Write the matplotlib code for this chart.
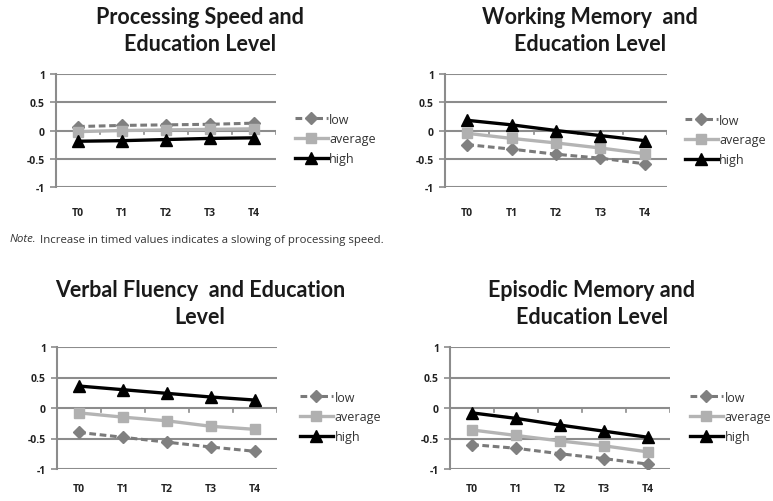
import matplotlib
matplotlib.use("Agg")
import matplotlib.pyplot as plt
import matplotlib.transforms as mtransforms

W, H = 773, 502
DPI = 100

times = ["T0", "T1", "T2", "T3", "T4"]
groups = ["low", "average", "high"]

ps_low = [0.07, 0.09, 0.10, 0.11, 0.13]
ps_avg = [-0.02, 0.00, 0.01, 0.02, 0.03]
ps_high = [-0.19, -0.18, -0.16, -0.14, -0.13]

wm_low = [-0.25, -0.33, -0.42, -0.49, -0.59]
wm_avg = [-0.05, -0.14, -0.22, -0.31, -0.41]
wm_high = [0.18, 0.10, 0.00, -0.09, -0.18]

vf_low = [-0.40, -0.48, -0.56, -0.64, -0.71]
vf_avg = [-0.08, -0.15, -0.21, -0.30, -0.35]
vf_high = [0.36, 0.30, 0.24, 0.18, 0.13]

em_low = [-0.60, -0.66, -0.75, -0.83, -0.92]
em_avg = [-0.36, -0.45, -0.54, -0.62, -0.72]
em_high = [-0.08, -0.17, -0.28, -0.38, -0.48]

y_ticks = [-1, -0.5, 0, 0.5, 1]
y_labels = ["-1", "-0.5", "0", "0.5", "1"]

titles = ["Processing Speed and\nEducation Level",
          "Working Memory  and\nEducation Level",
          "Verbal Fluency  and Education\nLevel",
          "Episodic Memory and\nEducation Level"]
note_label = "Note."
note_text = " Increase in timed values indicates a slowing of processing speed."

panels = [
    dict(data=(ps_low, ps_avg, ps_high), box=(56, 276, 75, 188), title=(200, 31),
         leg=(295, 140), xlab=213),
    dict(data=(wm_low, wm_avg, wm_high), box=(445, 667, 75, 188), title=(590, 31),
         leg=(685, 141), xlab=213),
    dict(data=(vf_low, vf_avg, vf_high), box=(57, 277, 348, 470), title=(200, 304),
         leg=(300, 418), xlab=490),
    dict(data=(em_low, em_avg, em_high), box=(450, 670, 348, 470), title=(592, 304),
         leg=(690, 418), xlab=490),
]

styles = [
    dict(color="#7a7a7a", ls=(0, (2.2, 1.2)), marker="D", ms=6.5, mfc="#808080", mec="#808080", lw=2.2),
    dict(color="#b4b4b4", ls="-", marker="s", ms=7.5, mfc="#b0b0b0", mec="#b0b0b0", lw=2.4),
    dict(color="#000000", ls="-", marker="^", ms=8, mfc="#000000", mec="#000000", lw=2.4),
]

fig = plt.figure(figsize=(W / DPI, H / DPI), dpi=DPI)
fig.patch.set_facecolor("white")

title_font = dict(family=["Lato", "DejaVu Sans"], weight="bold", size=15.5, color="#1a1a1a")
tick_font = dict(family=["Open Sans", "DejaVu Sans"], size=7.5, color="#222222", weight="bold")

for p, ttl in zip(panels, titles):
    l, r, t, b = p["box"]
    ax = fig.add_axes([l / W, 1 - b / H, (r - l) / W, (b - t) / H])
    ax.set_xlim(-0.5, len(times) - 0.5)
    ax.set_ylim(-1, 1)
    for s in ["top", "right", "bottom"]:
        ax.spines[s].set_visible(False)
    ax.spines["left"].set_color("#8c8c8c")
    ax.spines["left"].set_linewidth(1.5)
    ax.set_yticks(y_ticks)
    ax.set_yticklabels(y_labels, **tick_font)
    ax.tick_params(axis="y", length=4, width=1.2, color="#8c8c8c", pad=4)
    for yv in y_ticks:
        ax.axhline(yv, color="#8c8c8c", lw=1.5, zorder=1)
    # category boundary ticks on the zero line
    for i in range(len(times) + 1):
        ax.plot([i - 0.5, i - 0.5], [0, -0.06], color="#8c8c8c", lw=1.2, zorder=1)
    ax.set_xticks(range(len(times)))
    ax.set_xticklabels([])
    ax.tick_params(axis="x", length=0)
    for i, lab in enumerate(times):
        ax.text(i, 1 - p["xlab"] / H, lab,
                transform=mtransforms.blended_transform_factory(ax.transData, fig.transFigure),
                ha="center", va="center", **tick_font)
    for vals, g, st in zip(p["data"], groups, styles):
        ax.plot(range(len(times)), vals, label=g, zorder=3, **st)
    lx, ly = p["leg"]
    leg = ax.legend(loc="center left", bbox_to_anchor=(lx / W, 1 - ly / H), bbox_transform=fig.transFigure,
                    frameon=False, handlelength=2.6, handletextpad=0.15, labelspacing=0.55,
                    borderpad=0, borderaxespad=0, prop=dict(family=["Open Sans", "DejaVu Sans"], size=9))
    for txt in leg.get_texts():
        txt.set_color("#333333")
    tx, ty = p["title"]
    fig.text(tx / W, 1 - ty / H, ttl, ha="center", va="center", multialignment="center",
             linespacing=1.4, **title_font)

note_font = dict(family=["Open Sans", "DejaVu Sans"], size=8.2, color="#333333")
nt = fig.text(10 / W, 1 - 240 / H, note_label, ha="left", va="center", style="italic", **note_font)
renderer = fig.canvas.get_renderer()
bb = nt.get_window_extent(renderer=renderer)
fig.text(bb.x1 / W, 1 - 240 / H, note_text, ha="left", va="center", **note_font)

fig.savefig("out.png", dpi=DPI)
